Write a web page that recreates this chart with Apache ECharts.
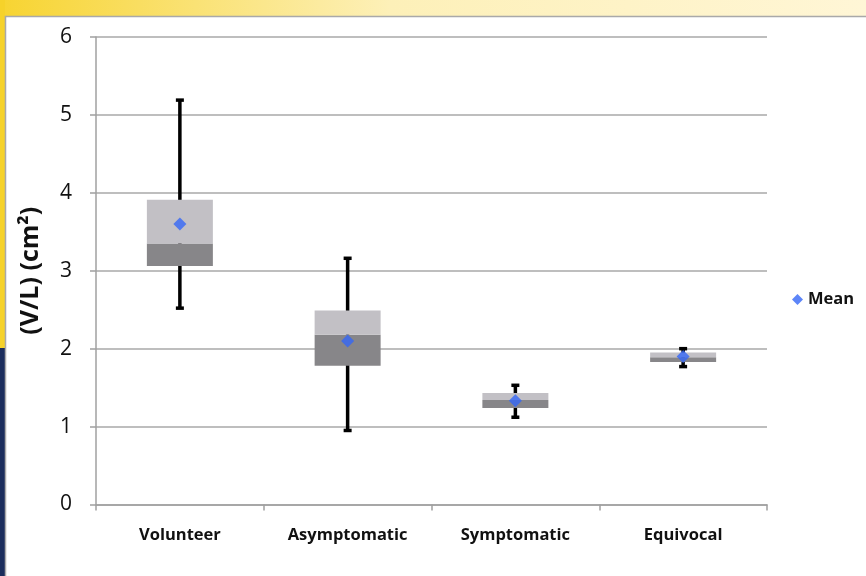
<!DOCTYPE html>
<html>
<head>
<meta charset="utf-8">
<style>
  html, body { margin: 0; padding: 0; background: #ffffff; }
  #chart { width: 866px; height: 576px; }
</style>
<script src="https://cdn.jsdelivr.net/npm/echarts@6/dist/echarts.min.js"></script>
</head>
<body>
<div id="chart"></div>
<script>
// Group labels and box-plot statistics for V/L (cm²)
const categories = ['Volunteer', 'Asymptomatic', 'Symptomatic', 'Equivocal'];
const whiskerLow = [2.52, 0.95, 1.12, 1.77];
const q1 = [3.06, 1.78, 1.24, 1.83];
const median = [3.35, 2.18, 1.34, 1.89];
const q3 = [3.91, 2.49, 1.43, 1.95];
const whiskerHigh = [5.19, 3.16, 1.53, 2.00];
const means = [3.60, 2.10, 1.33, 1.90];
const yTicks = [0, 1, 2, 3, 4, 5, 6];

const chart = echarts.init(document.getElementById('chart'), null, { renderer: 'canvas' });

// Stacked segments: invisible base up to Q1, dark Q1→median, light median→Q3
const baseSeg = q1.map(v => v);
const lowerSeg = median.map((m, i) => +(m - q1[i]).toFixed(4));
const upperSeg = q3.map((v, i) => +(v - median[i]).toFixed(4));

const font = '"Open Sans", "Liberation Sans", sans-serif';

const option = {
  animation: false,
  backgroundColor: '#ffffff',
  graphic: [
    // slide frame: yellow band on top, yellow/navy strip on the left, white panel
    { type: 'rect', z: -10, shape: { x: 0, y: 0, width: 866, height: 16 },
      style: { fill: new echarts.graphic.LinearGradient(0, 0, 1, 0, [
        { offset: 0, color: '#f7d431' }, { offset: 0.45, color: '#fdf0b8' }, { offset: 1, color: '#fff6d6' }]) } },
    { type: 'rect', z: -10, shape: { x: 0, y: 0, width: 5, height: 348 },
      style: { fill: '#f6d22a' } },
    { type: 'rect', z: -10, shape: { x: 0, y: 348, width: 5, height: 228 },
      style: { fill: '#1b2d5c' } },
    { type: 'rect', z: -9, shape: { x: 5.5, y: 16.5, width: 870, height: 570 },
      style: { fill: '#ffffff', stroke: '#a9a9a9', lineWidth: 1.5 } }
  ],
  grid: { left: 96, right: 99, top: 37, bottom: 71.5 },
  legend: {
    data: [{ name: 'Mean', icon: 'diamond' }],
    left: 787, top: 286, itemWidth: 11, itemHeight: 11, itemGap: 5,
    textStyle: { fontFamily: font, fontWeight: 'bold', fontSize: 16.5, color: '#111' }
  },
  xAxis: {
    type: 'category',
    data: categories,
    axisLine: { lineStyle: { color: '#a0a0a0', width: 1.5 } },
    axisTick: { show: true, length: 6, alignWithLabel: false, lineStyle: { color: '#a0a0a0', width: 1.5 } },
    axisLabel: { margin: 22, fontFamily: font, fontWeight: 'bold', fontSize: 16.5, color: '#111' }
  },
  yAxis: {
    type: 'value',
    min: yTicks[0], max: yTicks[yTicks.length - 1], interval: 1,
    name: '(V/L) (cm²)',
    nameLocation: 'middle', nameGap: 53, nameRotate: 90,
    nameTextStyle: { fontFamily: font, fontWeight: 'bold', fontSize: 25, color: '#111' },
    axisLine: { show: true, lineStyle: { color: '#a0a0a0', width: 1.5 } },
    axisTick: { show: true, length: 6, lineStyle: { color: '#a0a0a0', width: 1.5 } },
    axisLabel: { margin: 24, fontFamily: font, fontSize: 21, color: '#111' },
    splitLine: { lineStyle: { color: '#a8a8a8', width: 1.5 } }
  },
  series: [
    {
      // whiskers with end caps, drawn behind the boxes
      name: 'range', type: 'custom', z: 1,
      data: categories.map((c, i) => [i, whiskerLow[i], whiskerHigh[i]]),
      renderItem: function (params, api) {
        const lo = api.coord([api.value(0), api.value(1)]);
        const hi = api.coord([api.value(0), api.value(2)]);
        const capW = 8;
        const style = { stroke: '#000000', lineWidth: 3.5 };
        return {
          type: 'group',
          children: [
            { type: 'line', shape: { x1: lo[0], y1: lo[1], x2: hi[0], y2: hi[1] }, style: style },
            { type: 'line', shape: { x1: lo[0] - capW / 2, y1: lo[1], x2: lo[0] + capW / 2, y2: lo[1] }, style: style },
            { type: 'line', shape: { x1: hi[0] - capW / 2, y1: hi[1], x2: hi[0] + capW / 2, y2: hi[1] }, style: style }
          ]
        };
      }
    },
    {
      name: 'base', type: 'bar', stack: 'box', z: 2, barWidth: 66,
      data: baseSeg, itemStyle: { color: 'rgba(0,0,0,0)' }, silent: true
    },
    {
      name: 'lower', type: 'bar', stack: 'box', z: 2, barWidth: 66,
      data: lowerSeg, itemStyle: { color: '#878689' }
    },
    {
      name: 'upper', type: 'bar', stack: 'box', z: 2, barWidth: 66,
      data: upperSeg, itemStyle: { color: '#c2c0c5' }
    },
    {
      name: 'Mean', type: 'scatter', z: 5,
      symbol: 'diamond', symbolSize: 13,
      data: means.map((v, i) => [i, v]),
      itemStyle: { color: '#3567f6' }
    }
  ]
};

chart.setOption(option);
</script>
</body>
</html>
